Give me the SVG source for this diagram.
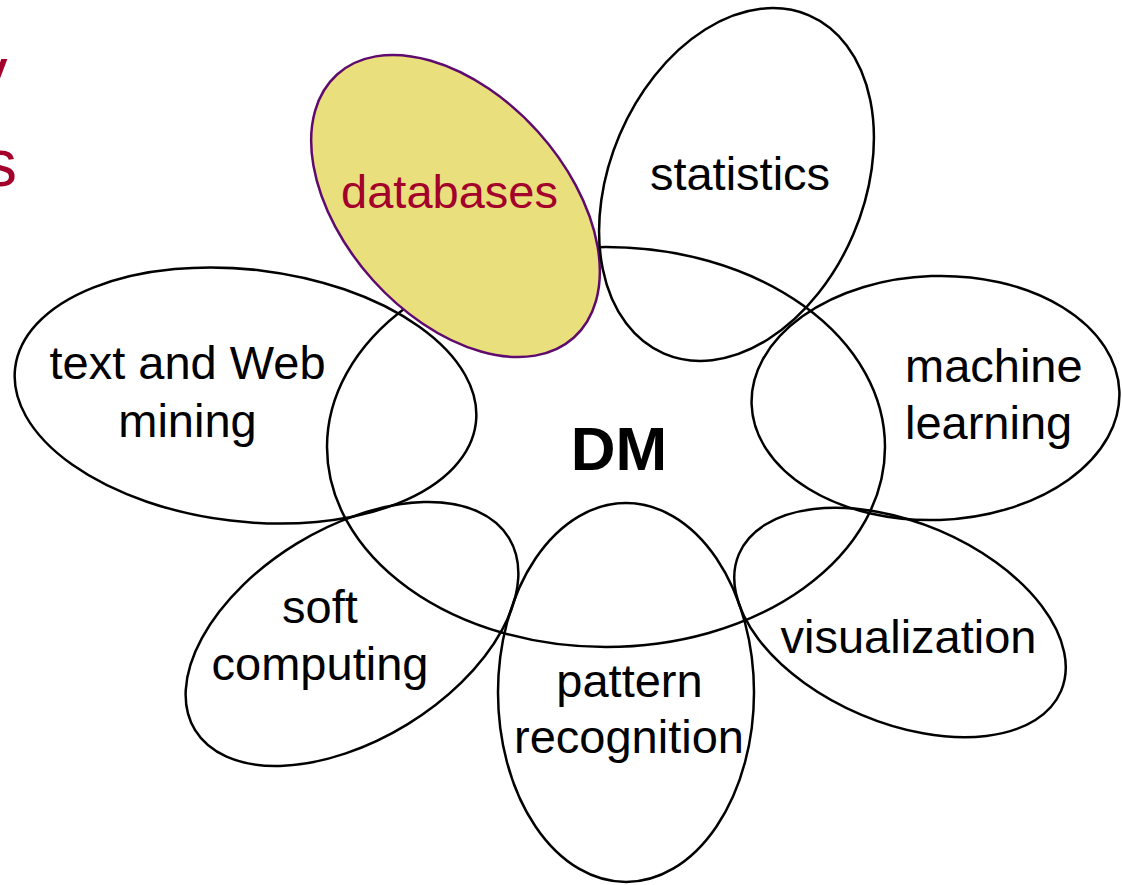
<svg xmlns="http://www.w3.org/2000/svg" width="1122" height="885" viewBox="0 0 1122 885">
<style>
.ring{fill:none;stroke:#000;stroke-width:2.5}
.lbl{font-family:"Liberation Sans",Arial,Helvetica,sans-serif;font-size:47px;fill:#000;text-anchor:middle}
.red{fill:#a3002b}
.title{font-family:"Liberation Sans",Arial,Helvetica,sans-serif;font-size:66px;fill:#a3002b;text-anchor:end}
</style>
<rect width="1122" height="885" fill="#fff"/>
<g id="title">
<text class="title" x="7.5" y="94">y</text>
<text class="title" x="17" y="186">s</text>
</g>
<g id="dm">
<ellipse class="ring" cx="606" cy="447" rx="279" ry="200"/>
<text x="619" y="470" font-family="Liberation Sans,Arial,Helvetica,sans-serif" font-size="62" font-weight="bold" text-anchor="middle">DM</text>
</g>
<g id="databases">
<ellipse cx="0" cy="0" rx="177" ry="111" transform="translate(455.5 206) rotate(48)" fill="#e9df7c" stroke="#5e0a6e" stroke-width="2.5"/>
<text class="lbl red" x="449.5" y="208">databases</text>
</g>
<g id="statistics">
<ellipse class="ring" cx="0" cy="0" rx="184" ry="127" transform="translate(736.5 184.5) rotate(-66.8)"/>
<text class="lbl" x="740" y="190">statistics</text>
</g>
<g id="machine-learning">
<ellipse class="ring" cx="0" cy="0" rx="184" ry="122" transform="translate(935.5 398) rotate(-2)"/>
<text class="lbl" x="905" y="382" text-anchor="start" style="text-anchor:start">machine</text>
<text class="lbl" x="905" y="439" style="text-anchor:start">learning</text>
</g>
<g id="visualization">
<ellipse class="ring" cx="0" cy="0" rx="175" ry="100" transform="translate(900 622.5) rotate(23)"/>
<text class="lbl" x="908.5" y="653">visualization</text>
</g>
<g id="pattern-recognition">
<ellipse class="ring" cx="626" cy="692.5" rx="128" ry="189.5"/>
<text class="lbl" x="629.5" y="697">pattern</text>
<text class="lbl" x="629" y="753">recognition</text>
</g>
<g id="soft-computing">
<ellipse class="ring" cx="0" cy="0" rx="184" ry="106" transform="translate(352 634) rotate(-31.5)"/>
<text class="lbl" x="320" y="623">soft</text>
<text class="lbl" x="320" y="680">computing</text>
</g>
<g id="text-web-mining">
<ellipse class="ring" cx="0" cy="0" rx="232" ry="126" transform="translate(245.5 395.5) rotate(6.8)"/>
<text class="lbl" x="187.5" y="379">text and Web</text>
<text class="lbl" x="187.5" y="437">mining</text>
</g>
</svg>
